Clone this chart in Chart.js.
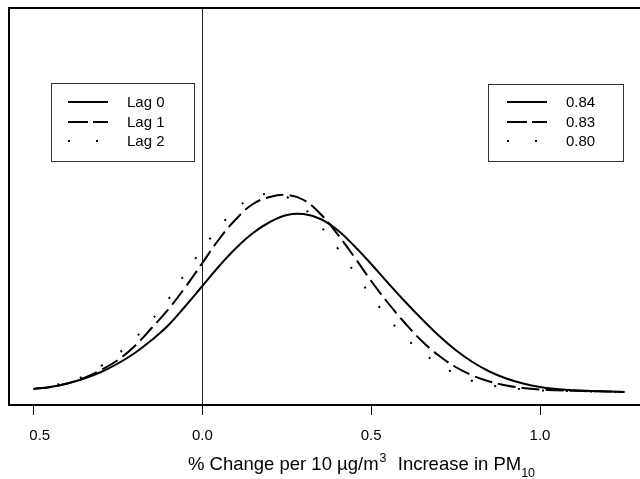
<!DOCTYPE html>
<html>
<head>
<meta charset="utf-8">
<script src="https://cdn.jsdelivr.net/npm/chart.js@4"></script>
<style>
  html, body { margin: 0; padding: 0; background: #fff; }
  #chart { display: block; }
</style>
</head>
<body>
<canvas id="chart" width="640" height="479"></canvas>
<script>
// x positions of the density estimates (% change)
const xValues = [-0.50, -0.45, -0.40, -0.35, -0.30, -0.25, -0.20, -0.15, -0.10, -0.05,
  0.00, 0.05, 0.10, 0.15, 0.20, 0.25, 0.30, 0.35, 0.40, 0.45,
  0.50, 0.55, 0.60, 0.65, 0.70, 0.75, 0.80, 0.85, 0.90, 0.95,
  1.00, 1.05, 1.10, 1.15, 1.20, 1.25];

const lag0 = [0.03, 0.05, 0.085, 0.135, 0.20, 0.285, 0.39, 0.52, 0.67, 0.86,
  1.06, 1.26, 1.44, 1.59, 1.70, 1.77, 1.78, 1.73, 1.62, 1.46,
  1.28, 1.09, 0.905, 0.73, 0.565, 0.42, 0.30, 0.205, 0.135, 0.085,
  0.05, 0.03, 0.017, 0.01, 0.005, 0.0];
const lag1 = [0.03, 0.05, 0.085, 0.14, 0.22, 0.32, 0.46, 0.64, 0.83, 1.05,
  1.29, 1.53, 1.73, 1.88, 1.95, 1.97, 1.92, 1.78, 1.58, 1.35,
  1.11, 0.89, 0.69, 0.51, 0.365, 0.25, 0.165, 0.105, 0.065, 0.04,
  0.025, 0.017, 0.012, 0.008, 0.005, 0.0];
const lag2 = [0.03, 0.06, 0.10, 0.16, 0.26, 0.38, 0.535, 0.72, 0.93, 1.19,
  1.43, 1.65, 1.83, 1.95, 1.98, 1.95, 1.84, 1.66, 1.44, 1.20,
  0.96, 0.74, 0.55, 0.40, 0.28, 0.18, 0.11, 0.07, 0.044, 0.027,
  0.017, 0.012, 0.008, 0.005, 0.003, 0.0];

const xTicks = [-0.5, 0.0, 0.5, 1.0];
const xTickLabels = ['0.5', '0.0', '0.5', '1.0'];
const lagLabels = ['Lag 0', 'Lag 1', 'Lag 2'];
const corrLabels = ['0.84', '0.83', '0.80'];
const titleMain1 = '% Change per 10 \u00b5g/m';
const titleSup = '3';
const titleMain2 = '  Increase in PM';
const titleSub = '10';

const FONT = "'Liberation Sans', Arial, sans-serif";
const dashes = [[], [18, 6], [2, 22]];
const legendDashes = [[], [20, 5], [2, 26]];

function toPoints(ys) {
  return xValues.map((x, i) => ({ x: x, y: ys[i] }));
}

const extras = {
  id: 'extras',
  beforeDatasetsDraw(chart) {
    const ctx = chart.ctx;
    const a = chart.chartArea;
    const x0 = chart.scales.x.getPixelForValue(0);
    ctx.save();
    ctx.strokeStyle = '#222';
    ctx.lineWidth = 1;
    ctx.beginPath();
    ctx.moveTo(Math.round(x0) + 0.5, a.top);
    ctx.lineTo(Math.round(x0) + 0.5, a.bottom);
    ctx.stroke();
    ctx.restore();
  },
  afterDatasetsDraw(chart) {
    const ctx = chart.ctx;
    const a = chart.chartArea;
    ctx.save();
    // frame (right side runs off the picture)
    ctx.strokeStyle = '#000';
    ctx.lineWidth = 2;
    ctx.beginPath();
    ctx.moveTo(a.right + 5, a.top);
    ctx.lineTo(a.left, a.top);
    ctx.lineTo(a.left, a.bottom);
    ctx.lineTo(a.right + 5, a.bottom);
    ctx.stroke();

    // two legend boxes
    drawLegend(ctx, 51, 83, 143, 78, 68, 127, lagLabels);
    drawLegend(ctx, 488, 84, 135, 77, 507, 566, corrLabels);

    // axis title with super/subscript
    ctx.fillStyle = '#000';
    ctx.textBaseline = 'alphabetic';
    ctx.textAlign = 'left';
    const big = '18.5px ' + FONT, small = '12.5px ' + FONT;
    ctx.font = big;
    const w1 = ctx.measureText(titleMain1).width;
    const w3 = ctx.measureText(titleMain2).width;
    ctx.font = small;
    const w2 = ctx.measureText(titleSup).width + 1;
    const w4 = ctx.measureText(titleSub).width;
    let x = 361 - (w1 + w2 + w3 + w4) / 2;
    ctx.font = big;
    ctx.fillText(titleMain1, x, 470); x += w1 + 1;
    ctx.font = small;
    ctx.fillText(titleSup, x, 462); x += w2;
    ctx.font = big;
    ctx.fillText(titleMain2, x, 470); x += w3;
    ctx.font = small;
    ctx.fillText(titleSub, x, 477);
    ctx.restore();
  }
};

function drawLegend(ctx, bx, by, bw, bh, lineX, textX, labels) {
  ctx.save();
  ctx.fillStyle = '#fff';
  ctx.fillRect(bx, by, bw, bh);
  ctx.strokeStyle = '#333';
  ctx.lineWidth = 1;
  ctx.setLineDash([]);
  ctx.strokeRect(bx + 0.5, by + 0.5, bw, bh);
  const rows = [102, 122, 141];
  labels.forEach((lab, i) => {
    ctx.strokeStyle = '#000';
    ctx.lineWidth = 2;
    ctx.setLineDash(legendDashes[i]);
    ctx.beginPath();
    ctx.moveTo(lineX, rows[i]);
    ctx.lineTo(lineX + 40, rows[i]);
    ctx.stroke();
    ctx.setLineDash([]);
    ctx.fillStyle = '#000';
    ctx.font = '15px ' + FONT;
    ctx.textBaseline = 'middle';
    ctx.textAlign = 'left';
    ctx.fillText(lab, textX, rows[i] + 1);
  });
  ctx.restore();
}

const seriesList = [lag0, lag1, lag2];

new Chart(document.getElementById('chart'), {
  type: 'line',
  data: {
    datasets: seriesList.map((s, i) => ({
      label: lagLabels[i],
      data: toPoints(s),
      borderColor: '#000',
      borderWidth: 2,
      borderDash: dashes[i],
      pointRadius: 0,
      fill: false,
      tension: 0.4
    }))
  },
  options: {
    responsive: false,
    animation: false,
    devicePixelRatio: 1,
    layout: { padding: { left: 9, top: 8, right: 0, bottom: 0 } },
    plugins: { legend: { display: false }, tooltip: { enabled: false } },
    scales: {
      x: {
        type: 'linear',
        min: -0.5726,
        max: 1.2961,
        afterBuildTicks: (scale) => { scale.ticks = xTicks.map(v => ({ value: v })); },
        afterFit: (scale) => { scale.height = 74; },
        border: { display: false },
        grid: { drawOnChartArea: false, drawTicks: true, tickLength: 10, color: '#000', tickWidth: 1 },
        ticks: {
          color: '#000',
          font: { family: FONT, size: 15 },
          padding: 12,
          maxRotation: 0,
          callback: (v) => {
            const i = xTicks.indexOf(v);
            return i === 0 ? '   ' + xTickLabels[i] : xTickLabels[i];
          }
        }
      },
      y: {
        type: 'linear',
        display: false,
        min: -0.13,
        max: 3.84
      }
    }
  },
  plugins: [extras]
});
</script>
</body>
</html>
